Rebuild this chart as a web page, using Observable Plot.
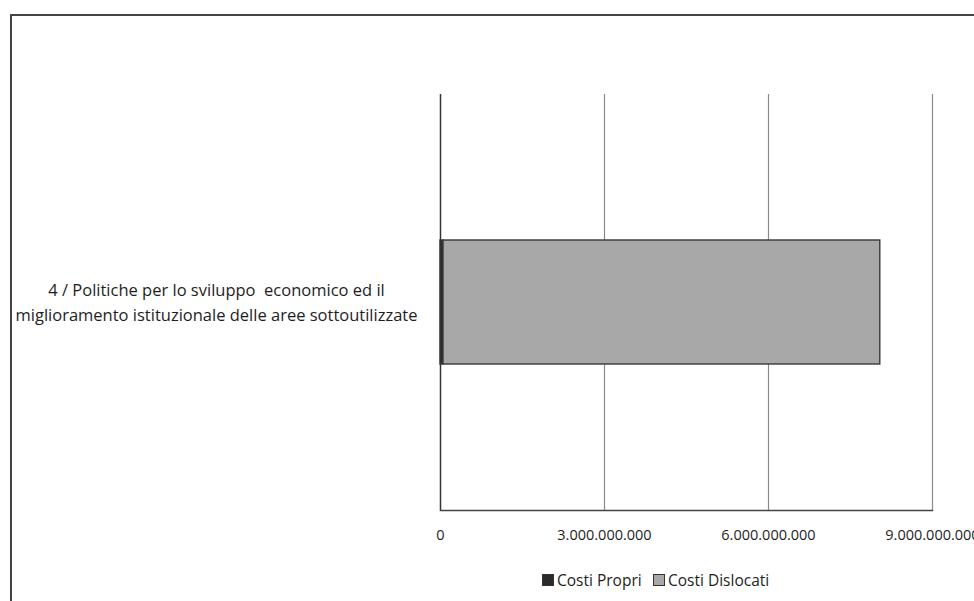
<!DOCTYPE html>
<html>
<head>
<meta charset="utf-8">
<script src="https://cdn.jsdelivr.net/npm/d3@7"></script>
<script src="https://cdn.jsdelivr.net/npm/@observablehq/plot@0.6"></script>
<style>
  html, body { margin: 0; padding: 0; background: #fff; width: 974px; height: 601px; overflow: hidden; }
  #frame { position: absolute; left: 10px; top: 14px; width: 1000px; height: 620px; border-left: 2px solid #444; border-top: 2px solid #444; box-sizing: border-box; }
  #chart { position: absolute; left: 0; top: 0; }
  #legend { position: absolute; left: 0; top: 569px; width: 974px; height: 22px; font-family: "Open Sans", Lato, sans-serif; font-size: 15.5px; color: #1e1e1e; }
  .item { position: absolute; top: 0; display: flex; align-items: center; height: 22px; }
  .sw { width: 10px; height: 10px; border: 1px solid #333; margin-right: 3px; }
</style>
</head>
<body>
<div id="frame"></div>
<div id="chart"></div>
<div id="legend"></div>
<script>
const categories = ["4 / Politiche per lo sviluppo  economico ed il\nmiglioramento istituzionale delle aree sottoutilizzate"];
const series = ["Costi Propri", "Costi Dislocati"];
const values = [55000000, 7990000000];
const seriesColors = ["#2a2a2a", "#a8a8a8"];
const xTicks = [0, 3000000000, 6000000000, 9000000000];

const rows = series.map((s, i) => ({cat: categories[0], series: s, value: values[i]}));
const itFormat = d3.formatLocale({decimal: ",", thousands: ".", grouping: [3], currency: ["", "€"]}).format(",");

const chart = Plot.plot({
  width: 974,
  height: 555,
  marginTop: 94,
  marginBottom: 45,
  marginLeft: 440,
  marginRight: 42,
  style: {fontFamily: "'Open Sans', Lato, sans-serif", fontSize: "14px", color: "#1e1e1e", background: "transparent", overflow: "visible"},
  x: {domain: [0, 9000000000], axis: null, label: null},
  y: {domain: categories, padding: 0.54, axis: null, label: null},
  color: {domain: series, range: seriesColors},
  marks: [
    Plot.ruleX(xTicks.slice(1), {stroke: "#8a8a8a", strokeWidth: 1.2}),
    Plot.barX(rows, Plot.stackX({x: "value", y: "cat", fill: "series", stroke: "#383838", strokeWidth: 1.4, order: series})),
    Plot.ruleX([0], {stroke: "#333", strokeWidth: 1.5}),
    Plot.frame({anchor: "bottom", stroke: "#444", strokeWidth: 1.5}),
    Plot.axisX({ticks: xTicks, tickSize: 0, tickPadding: 19, tickFormat: d => itFormat(d), fill: "#1e1e1e", fontSize: 14.5, label: null}),
    Plot.text(categories, {y: d => d, text: d => d, frameAnchor: "left", dx: -224, dy: -2, textAnchor: "middle", lineHeight: 1.52, fontSize: 16.5, fill: "#1e1e1e"})
  ]
});
document.getElementById("chart").appendChild(chart);

const legend = document.getElementById("legend");
const legendX = [542, 653];
series.forEach((s, i) => {
  const item = document.createElement("div");
  item.className = "item";
  item.style.left = legendX[i] + "px";
  const sw = document.createElement("div");
  sw.className = "sw";
  sw.style.background = seriesColors[i];
  const label = document.createElement("span");
  label.textContent = s;
  item.appendChild(sw);
  item.appendChild(label);
  legend.appendChild(item);
});
</script>
</body>
</html>
